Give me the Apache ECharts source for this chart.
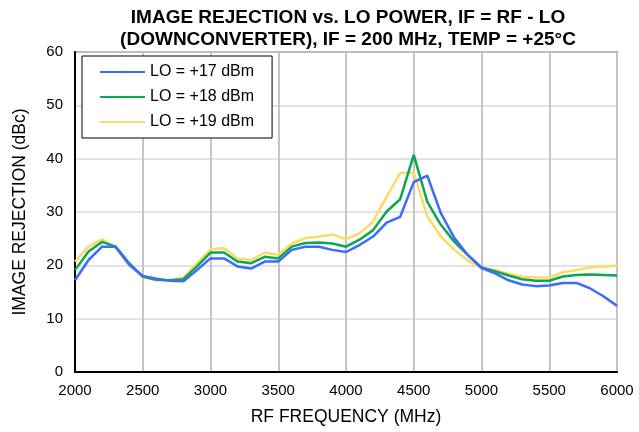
<!DOCTYPE html>
<html>
<head>
<meta charset="utf-8">
<script src="https://cdn.jsdelivr.net/npm/echarts@6/dist/echarts.min.js"></script>
<style>
  html, body { margin: 0; padding: 0; background: #fff; }
  #chart { width: 639px; height: 432px; }
</style>
</head>
<body>
<div id="chart"></div>
<script>
// RF frequency, 100 MHz steps
const freq = [];
for (let f = 2000; f <= 6000; f += 100) freq.push(f);

const seriesNames = ['LO = +17 dBm', 'LO = +18 dBm', 'LO = +19 dBm'];

const lo17 = [17.2, 21.0, 23.5, 23.5, 20.1, 18.0, 17.5, 17.1, 17.0, 19.1,
  21.3, 21.3, 19.8, 19.4, 20.7, 20.7, 22.9, 23.5, 23.5, 22.9,
  22.5, 23.8, 25.4, 28.0, 29.1, 35.6, 36.8, 29.8, 25.1, 21.9,
  19.5, 18.5, 17.2, 16.4, 16.1, 16.2, 16.7, 16.7, 15.7, 14.2, 12.4];
const lo18 = [19.1, 22.6, 24.4, 23.5, 20.4, 17.9, 17.3, 17.2, 17.4, 19.8,
  22.4, 22.4, 20.7, 20.4, 21.6, 21.3, 23.5, 24.2, 24.3, 24.1,
  23.5, 24.8, 26.6, 30.1, 32.4, 40.7, 31.9, 27.6, 24.4, 21.9,
  19.6, 18.9, 18.1, 17.4, 17.1, 17.1, 17.9, 18.2, 18.3, 18.2, 18.1];
const lo19 = [20.7, 23.5, 24.9, 23.2, 20.1, 17.8, 17.2, 17.2, 17.7, 20.4,
  23.0, 23.2, 21.3, 21.0, 22.4, 22.0, 24.1, 25.1, 25.4, 25.8,
  24.9, 26.0, 28.2, 32.9, 37.3, 37.4, 29.2, 25.4, 22.9, 20.9,
  19.5, 19.1, 18.4, 17.9, 17.7, 17.7, 18.7, 19.1, 19.6, 19.8, 19.9];

const colors = ['#3d6bff', '#0aa84f', '#ffd966'];

const chart = echarts.init(document.getElementById('chart'), null, { renderer: 'canvas' });

function pairs(vals) {
  return freq.map((f, i) => [f, vals[i]]);
}

const option = {
  animation: false,
  backgroundColor: '#ffffff',
  color: colors,
  textStyle: { fontFamily: 'Liberation Sans, Arial, sans-serif' },
  title: {
    text: 'IMAGE REJECTION vs. LO POWER, IF = RF - LO\n(DOWNCONVERTER), IF = 200 MHz, TEMP = +25°C',
    left: 343,
    textAlign: 'center',
    top: 2,
    textStyle: { fontSize: 19, fontWeight: 'bold', color: '#000', lineHeight: 22 }
  },
  legend: {
    orient: 'vertical',
    left: 82,
    top: 56,
    itemWidth: 45,
    itemHeight: 3,
    itemGap: 9,
    padding: [8, 18, 8, 17],
    borderColor: '#000',
    borderWidth: 1,
    backgroundColor: '#fff',
    textStyle: { fontSize: 16, color: '#000' },
    data: seriesNames
  },
  grid: {
    left: 75, right: 22, top: 52, bottom: 60,
    show: true, borderColor: '#333', borderWidth: 1.5
  },
  xAxis: {
    type: 'value',
    min: 2000, max: 6000, interval: 500,
    name: 'RF FREQUENCY (MHz)',
    nameLocation: 'middle',
    nameGap: 36,
    nameTextStyle: { fontSize: 17.5, color: '#000' },
    axisLine: { lineStyle: { color: '#000', width: 2 } },
    axisTick: { show: false },
    axisLabel: { fontSize: 15, color: '#000', margin: 11, formatter: v => String(v) },
    splitLine: { lineStyle: { color: '#c4c4c4', width: 2 } }
  },
  yAxis: {
    type: 'value',
    min: 0, max: 60, interval: 10,
    name: 'IMAGE REJECTION (dBc)',
    nameLocation: 'middle',
    nameGap: 46,
    nameTextStyle: { fontSize: 17.5, color: '#000' },
    axisLine: { show: true, lineStyle: { color: '#000', width: 2 } },
    axisTick: { show: false },
    axisLabel: { fontSize: 15, color: '#000', margin: 12 },
    splitLine: { lineStyle: { color: '#d9d9d9', width: 1.5 } }
  },
  series: [lo17, lo18, lo19].map((vals, i) => ({
    name: seriesNames[i],
    type: 'line',
    data: pairs(vals),
    symbol: 'none',
    lineStyle: { width: 2.5, color: colors[i] },
    z: 3 - i
  }))
};

chart.setOption(option);
</script>
</body>
</html>
